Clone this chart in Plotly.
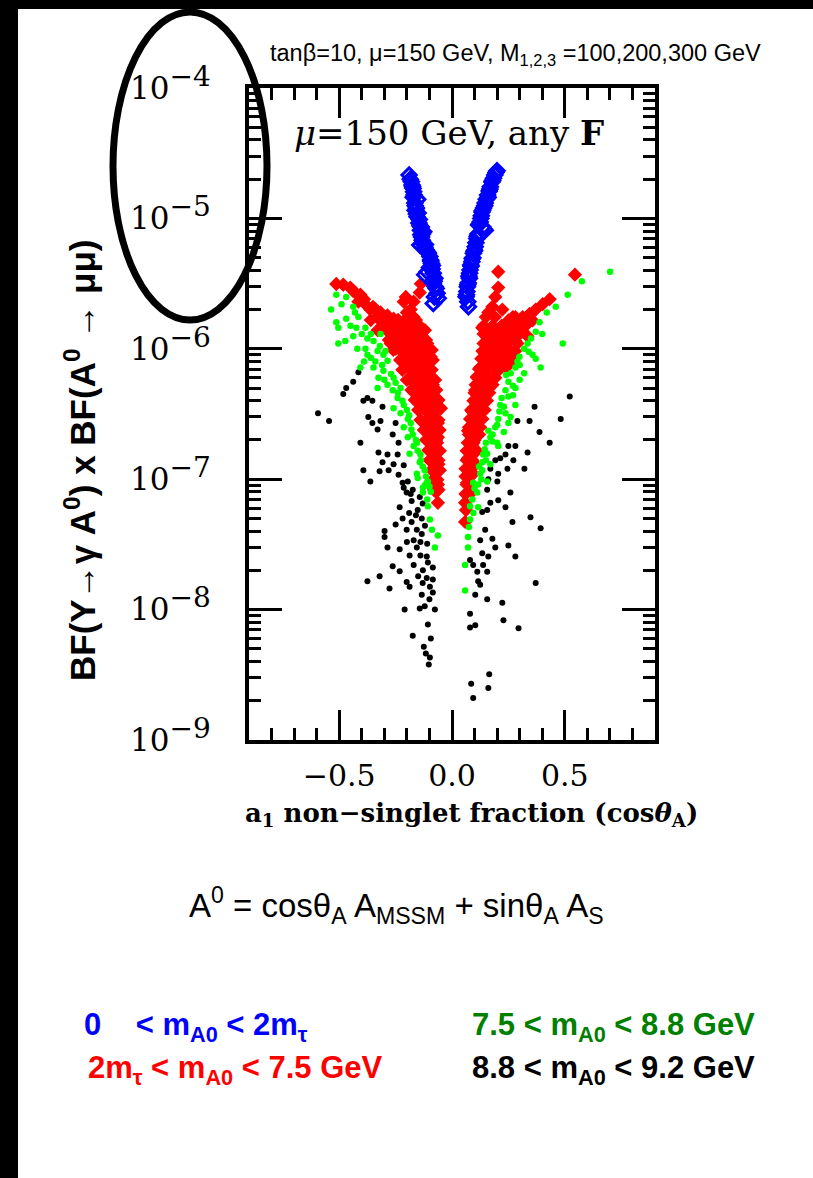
import plotly.graph_objects as go

# ---------------- data ----------------
blue_x = [-0.19, -0.18, -0.173, -0.168, -0.165, -0.161, -0.155, -0.147, -0.14, -0.135, -0.143, -0.128,
          -0.113, -0.098, -0.091, -0.121, -0.083, -0.076, -0.083, -0.066, -0.083, -0.061,
          -0.177, -0.17, -0.158, -0.15, -0.145, -0.136, -0.131, -0.12, -0.105, -0.095, -0.1, -0.088,
          -0.07, -0.152, -0.125,
          -0.185, -0.175, -0.163, -0.158, -0.142, -0.138, -0.132, -0.118, -0.108, -0.094, -0.087, -0.11,
          -0.079, -0.075, -0.078, -0.172, -0.163,
          0.1995, 0.184, 0.17, 0.158, 0.147, 0.133, 0.125, 0.147, 0.118, 0.11, 0.103, 0.095, 0.088,
          0.08, 0.077, 0.068, 0.0625, 0.073,
          0.19, 0.177, 0.165, 0.152, 0.14, 0.13, 0.137, 0.115, 0.1, 0.092, 0.085, 0.072, 0.066, 0.078,
          0.195, 0.18, 0.168, 0.16, 0.145, 0.135, 0.128, 0.12, 0.112, 0.106, 0.098, 0.09, 0.083, 0.075,
          0.07, 0.064, 0.07, 0.142]
blue_y = [2.15e-5, 1.91e-5, 1.70e-5, 1.51e-5, 1.31e-5, 1.16e-5, 1.03e-5, 9.2e-6, 8.1e-6, 7.2e-6, 6.25e-6, 6.4e-6,
          5.7e-6, 5.1e-6, 4.5e-6, 3.7e-6, 3.8e-6, 3.47e-6, 3.18e-6, 2.67e-6, 2.23e-6, 2.44e-6,
          1.8e-5, 1.6e-5, 1.2e-5, 1.1e-5, 9.8e-6, 8.6e-6, 7.6e-6, 6.0e-6, 5.4e-6, 4.8e-6, 4.2e-6, 4.1e-6,
          2.9e-6, 1.4e-5, 7.9e-6,
          2.0e-5, 1.75e-5, 1.25e-5, 1.08e-5, 8.8e-6, 7.5e-6, 6.8e-6, 6.3e-6, 5.5e-6, 4.7e-6, 4.35e-6, 3.9e-6,
          3.3e-6, 3.0e-6, 2.5e-6, 1.45e-5, 1.15e-5,
          2.32e-5, 2.03e-5, 1.75e-5, 1.51e-5, 1.31e-5, 1.12e-5, 9.4e-6, 8.1e-6, 8.9e-6, 7.0e-6, 6.07e-6, 5.4e-6, 4.66e-6,
          4.02e-6, 3.47e-6, 2.99e-6, 2.51e-6, 2.1e-6,
          2.15e-5, 1.9e-5, 1.62e-5, 1.4e-5, 1.2e-5, 1.05e-5, 8.6e-6, 7.6e-6, 5.7e-6, 5.0e-6, 4.3e-6, 3.2e-6, 2.75e-6, 3.8e-6,
          2.25e-5, 1.95e-5, 1.68e-5, 1.45e-5, 1.25e-5, 1.15e-5, 1.0e-5, 9.0e-6, 7.3e-6, 6.5e-6, 5.6e-6, 4.9e-6, 4.4e-6, 3.6e-6,
          3.1e-6, 2.6e-6, 2.3e-6, 8.3e-6]

red_x = [-0.513, -0.482, -0.451, -0.429, -0.406, -0.415, -0.384, -0.362, -0.339, -0.317, -0.286, -0.259,
         -0.33, -0.304, -0.281, -0.263, -0.241, -0.219, -0.205, -0.214, -0.138, -0.143, -0.17, -0.183,
         -0.196, -0.17, -0.152, -0.129, -0.17, -0.183, -0.143, -0.107, -0.094, -0.116, -0.196, -0.174,
         -0.152, -0.129, -0.17, -0.107, -0.138, -0.085, -0.107, -0.076, -0.049, -0.121, -0.094, -0.107,
         -0.076, -0.094, -0.0625, -0.076, -0.054, -0.071, -0.054, -0.0625, -0.071,
         -0.241, -0.228, -0.25, -0.272, -0.196, -0.214, -0.237, -0.121, -0.214, -0.196, -0.183, -0.161,
         -0.143, -0.129, -0.116, -0.098, -0.085, -0.076, -0.094, -0.0625, -0.067, -0.0625,
         -0.15, -0.12, -0.1, -0.088, -0.08, -0.066, -0.06, -0.2, -0.16, -0.135, -0.16, -0.14, -0.12,
         -0.23, -0.25, -0.3, -0.35, -0.39, -0.44, -0.155, -0.18, -0.2, -0.13, -0.11,
         -0.36, -0.32, -0.28, -0.24, -0.2, -0.16,
         -0.33, -0.29, -0.26, -0.22, -0.18, -0.14, -0.12,
         -0.28, -0.25, -0.21, -0.17, -0.13, -0.115,
         -0.26, -0.23, -0.19, -0.15, -0.11, -0.09,
         -0.23, -0.2, -0.165, -0.13, -0.1, -0.085,
         -0.22, -0.185, -0.15, -0.115, -0.09,
         -0.2, -0.165, -0.13, -0.1, -0.075,
         -0.18, -0.15, -0.12, -0.09, -0.07,
         -0.165, -0.135, -0.105, -0.08, -0.06,
         -0.15, -0.12, -0.095, -0.07,
         -0.14, -0.11, -0.085, -0.06,
         -0.125, -0.1, -0.075, -0.055,
         -0.115, -0.09, -0.07,
         -0.105, -0.085, -0.065,
         -0.1, -0.08, -0.06,
         -0.09, -0.07, -0.085, -0.065, -0.08, -0.06,
         0.205, 0.545, 0.433, 0.402, 0.371, 0.344, 0.313, 0.281, 0.25, 0.223, 0.205, 0.192, 0.179, 0.161,
         0.134, 0.161, 0.192, 0.223, 0.25, 0.299, 0.326, 0.335, 0.281, 0.25, 0.223, 0.192, 0.161, 0.147,
         0.179, 0.268, 0.237, 0.205, 0.134, 0.112, 0.161, 0.192, 0.134, 0.103, 0.156, 0.112, 0.089, 0.134,
         0.103, 0.071, 0.116, 0.089, 0.071, 0.103, 0.08, 0.089, 0.357, 0.08, 0.067, 0.058, 0.058, 0.094,
         0.12, 0.15, 0.17, 0.12, 0.14, 0.09, 0.1, 0.085, 0.075, 0.24, 0.28, 0.3, 0.21, 0.18, 0.26, 0.2,
         0.15, 0.19, 0.27, 0.33,
         0.14, 0.18, 0.22, 0.26, 0.31,
         0.14, 0.19, 0.25, 0.3,
         0.14, 0.2, 0.24, 0.29,
         0.135, 0.17, 0.21, 0.28,
         0.13, 0.18, 0.22,
         0.125, 0.16, 0.2, 0.24,
         0.11, 0.15, 0.18,
         0.105, 0.14, 0.18,
         0.1, 0.13, 0.165,
         0.095, 0.125, 0.155,
         0.085, 0.115, 0.145,
         0.08, 0.11, 0.135,
         0.075, 0.1, 0.125,
         0.075, 0.1, 0.12,
         0.07, 0.095,
         0.065, 0.09, 0.11,
         0.065, 0.09,
         0.06, 0.085,
         0.06, 0.08,
         0.065, 0.08,
         0.06, 0.062]
red_y = [3.14e-6, 3.1e-6, 2.95e-6, 2.7e-6, 2.6e-6, 2.3e-6, 2.2e-6, 2.0e-6, 2.0e-6, 1.9e-6, 1.8e-6, 1.7e-6,
         1.75e-6, 1.6e-6, 1.45e-6, 1.3e-6, 1.15e-6, 1.0e-6, 2.5e-6, 2.3e-6, 3.15e-6, 2.7e-6, 2.3e-6, 2.0e-6,
         1.75e-6, 1.75e-6, 1.55e-6, 1.35e-6, 1.38e-6, 1.2e-6, 1.15e-6, 1.0e-6, 8.7e-7, 8.7e-7, 9.6e-7, 8.7e-7,
         7.6e-7, 6.8e-7, 6.8e-7, 6.0e-7, 5.6e-7, 5.3e-7, 4.8e-7, 4.2e-7, 3.5e-7, 4.0e-7, 3.5e-7, 2.9e-7,
         2.8e-7, 2.35e-7, 2.1e-7, 1.8e-7, 1.65e-7, 1.4e-7, 1.17e-7, 9.1e-8, 8.0e-8,
         1.45e-6, 1.3e-6, 1.0e-6, 1.1e-6, 1.2e-6, 1.45e-6, 1.65e-6, 9.0e-7, 8.7e-7, 7.6e-7, 6.0e-7, 5.3e-7,
         4.6e-7, 3.5e-7, 2.7e-7, 1.95e-7, 1.45e-7, 1.17e-7, 1.65e-7, 2.7e-7, 8.3e-8, 6.6e-8,
         6.2e-7, 5.0e-7, 3.9e-7, 3.1e-7, 2.3e-7, 1.9e-7, 1.3e-7, 1.1e-6, 1.05e-6, 9.5e-7, 8.0e-7, 7.2e-7, 6.5e-7,
         1.55e-6, 1.4e-6, 1.7e-6, 2.1e-6, 2.4e-6, 2.8e-6, 1.3e-6, 1.5e-6, 1.9e-6, 1.2e-6, 1.1e-6,
         1.66e-6, 1.66e-6, 1.66e-6, 1.66e-6, 1.66e-6, 1.66e-6,
         1.39e-6, 1.39e-6, 1.39e-6, 1.39e-6, 1.39e-6, 1.39e-6, 1.39e-6,
         1.17e-6, 1.17e-6, 1.17e-6, 1.17e-6, 1.17e-6, 1.17e-6,
         9.8e-7, 9.8e-7, 9.8e-7, 9.8e-7, 9.8e-7, 9.8e-7,
         8.2e-7, 8.2e-7, 8.2e-7, 8.2e-7, 8.2e-7, 8.2e-7,
         6.9e-7, 6.9e-7, 6.9e-7, 6.9e-7, 6.9e-7,
         5.77e-7, 5.77e-7, 5.77e-7, 5.77e-7, 5.77e-7,
         4.83e-7, 4.83e-7, 4.83e-7, 4.83e-7, 4.83e-7,
         4.05e-7, 4.05e-7, 4.05e-7, 4.05e-7, 4.05e-7,
         3.4e-7, 3.4e-7, 3.4e-7, 3.4e-7,
         2.84e-7, 2.84e-7, 2.84e-7, 2.84e-7,
         2.38e-7, 2.38e-7, 2.38e-7, 2.38e-7,
         2.0e-7, 2.0e-7, 2.0e-7,
         1.67e-7, 1.67e-7, 1.67e-7,
         1.4e-7, 1.4e-7, 1.4e-7,
         1.18e-7, 1.18e-7, 9.9e-8, 9.9e-8, 8.3e-8, 8.3e-8,
         3.9e-6, 3.7e-6, 2.4e-6, 2.2e-6, 2.0e-6, 1.85e-6, 1.75e-6, 1.75e-6, 1.65e-6, 2.0e-6, 2.95e-6, 2.5e-6, 2.1e-6, 1.9e-6,
         1.45e-6, 1.38e-6, 1.42e-6, 1.3e-6, 1.38e-6, 1.45e-6, 1.5e-6, 1.25e-6, 1.15e-6, 1.0e-6, 9.6e-7, 9.0e-7, 8.7e-7, 1.1e-6,
         1.0e-6, 8.1e-7, 7.6e-7, 6.8e-7, 6.4e-7, 6.0e-7, 6.0e-7, 6.0e-7, 5.3e-7, 4.8e-7, 4.6e-7, 4.0e-7, 3.3e-7, 3.3e-7,
         2.7e-7, 2.35e-7, 2.2e-7, 1.8e-7, 1.45e-7, 1.3e-7, 1.05e-7, 8.0e-8, 1.65e-6, 1.5e-7, 9.4e-8, 6.6e-8, 4.7e-8, 1.1e-7,
         7.0e-7, 7.5e-7, 5.2e-7, 4.4e-7, 3.8e-7, 2.4e-7, 2.0e-7, 1.6e-7, 1.2e-7, 1.2e-6, 1.3e-6, 1.6e-6, 1.1e-6, 1.2e-6, 9.0e-7, 8.0e-7,
         1.75e-6, 1.75e-6, 1.75e-6, 1.75e-6,
         1.5e-6, 1.5e-6, 1.5e-6, 1.5e-6, 1.5e-6,
         1.3e-6, 1.3e-6, 1.3e-6, 1.3e-6,
         1.1e-6, 1.1e-6, 1.1e-6, 1.1e-6,
         9.6e-7, 9.6e-7, 9.6e-7, 9.6e-7,
         8.4e-7, 8.4e-7, 8.4e-7,
         7.2e-7, 7.2e-7, 7.2e-7, 7.2e-7,
         6.1e-7, 6.1e-7, 6.1e-7,
         5.3e-7, 5.3e-7, 5.3e-7,
         4.6e-7, 4.6e-7, 4.6e-7,
         4.0e-7, 4.0e-7, 4.0e-7,
         3.4e-7, 3.4e-7, 3.4e-7,
         2.9e-7, 2.9e-7, 2.9e-7,
         2.5e-7, 2.5e-7, 2.5e-7,
         2.2e-7, 2.2e-7, 2.2e-7,
         1.9e-7, 1.9e-7,
         1.65e-7, 1.65e-7, 1.65e-7,
         1.4e-7, 1.4e-7,
         1.2e-7, 1.2e-7,
         1.05e-7, 1.05e-7,
         9.1e-8, 9.1e-8,
         7.7e-8, 5.8e-8]

green_x = [-0.513, -0.536, -0.513, -0.504, -0.473, -0.469, -0.469, -0.438, -0.415, -0.424, -0.438, -0.384,
           -0.375, -0.384, -0.375, -0.406, -0.348, -0.33, -0.304, -0.286, -0.348, -0.326, -0.304, -0.33,
           -0.286, -0.259, -0.263, -0.241, -0.228, -0.259, -0.214, -0.228, -0.196, -0.183, -0.214, -0.174,
           -0.17, -0.196, -0.152, -0.138, -0.121, -0.107, -0.152, -0.129, -0.094, -0.317, -0.295, -0.188,
           -0.143, -0.156, -0.112, -0.129, -0.107, -0.098, -0.089, -0.0625, -0.076, -0.504,
           -0.36, -0.34, -0.31, -0.27, -0.25, -0.3, -0.24, -0.22, -0.2, -0.19, -0.18, -0.16, -0.155, -0.14,
           -0.13, -0.115, -0.1, -0.11, -0.12, -0.4, -0.45, -0.43, -0.49, -0.36, -0.32, -0.42, -0.39,
           0.701, 0.576, 0.513, 0.46, 0.388, 0.371, 0.491, 0.335, 0.357, 0.371, 0.393, 0.299, 0.281, 0.25,
           0.281, 0.237, 0.281, 0.214, 0.237, 0.25, 0.205, 0.192, 0.161, 0.205, 0.179, 0.138, 0.17, 0.134,
           0.116, 0.156, 0.2, 0.156, 0.134, 0.125, 0.094, 0.112, 0.08, 0.116, 0.08, 0.071, 0.071, 0.058, 0.058,
           0.22, 0.26, 0.23, 0.18, 0.15, 0.32, 0.3, 0.24, 0.27,
           0.42, 0.35, 0.32, 0.3, 0.26, 0.27, 0.25, 0.23, 0.21, 0.2, 0.17, 0.145, 0.15, 0.12, 0.13, 0.1,
           0.09, 0.095, 0.075, 0.29, 0.34, 0.4]
green_y = [2.6e-6, 2.0e-6, 1.6e-6, 1.1e-6, 1.15e-6, 1.7e-6, 2.5e-6, 2.1e-6, 1.75e-6, 1.45e-6, 1.25e-6, 1.45e-6,
           1.2e-6, 1.0e-6, 9.0e-7, 7.2e-7, 1.15e-6, 9.6e-7, 9.0e-7, 8.1e-7, 7.2e-7, 6.0e-7, 6.8e-7, 5.0e-7,
           5.3e-7, 6.0e-7, 4.8e-7, 4.2e-7, 5.0e-7, 3.5e-7, 3.7e-7, 3.2e-7, 2.9e-7, 2.7e-7, 2.5e-7, 2.2e-7,
           1.8e-7, 2.1e-7, 1.65e-7, 1.4e-7, 1.17e-7, 9.6e-8, 1.02e-7, 8.6e-8, 8.0e-8, 1.3e-6, 9.6e-7, 1.57e-7,
           1.35e-7, 1.1e-7, 9.4e-8, 7.9e-8, 6.2e-8, 4.9e-8, 4.1e-8, 3.7e-8, 3.0e-8, 1.45e-6,
           8.5e-7, 8.0e-7, 7.5e-7, 6.4e-7, 5.5e-7, 5.8e-7, 4.6e-7, 4.0e-7, 3.4e-7, 3.1e-7, 2.4e-7, 2.0e-7, 1.9e-7, 1.55e-7,
           1.25e-7, 1.05e-7, 8.8e-8, 7.0e-8, 9.0e-8, 1.3e-6, 1.5e-6, 1.9e-6, 2.2e-6, 1.3e-6, 1.05e-6, 1.0e-6, 8.0e-7,
           3.9e-6, 3.3e-6, 2.6e-6, 2.1e-6, 1.6e-6, 1.35e-6, 1.1e-6, 1.1e-6, 9.0e-7, 8.4e-7, 7.2e-7, 8.7e-7, 7.2e-7, 5.6e-7,
           5.0e-7, 4.8e-7, 3.7e-7, 3.7e-7, 3.2e-7, 2.7e-7, 2.9e-7, 2.5e-7, 2.35e-7, 1.8e-7, 1.95e-7, 1.55e-7, 1.3e-7, 1.17e-7,
           9.1e-8, 9.6e-8, 1.9e-7, 1.57e-7, 1.35e-7, 1.1e-7, 9.4e-8, 7.9e-8, 6.2e-8, 6.1e-8, 4.9e-8, 3.6e-8, 3.0e-8, 2.2e-8, 1.4e-8,
           4.2e-7, 3.0e-7, 2.3e-7, 2.2e-7, 1.9e-7, 6.5e-7, 5.8e-7, 6.3e-7, 4.4e-7,
           1.9e-6, 1.2e-6, 1.0e-6, 7.5e-7, 6.5e-7, 5.2e-7, 4.3e-7, 3.6e-7, 3.3e-7, 2.6e-7, 2.1e-7, 1.7e-7, 1.4e-7, 1.25e-7, 1.0e-7, 8.5e-8,
           7.0e-8, 5.5e-8, 4.3e-8, 8.0e-7, 9.5e-7, 1.3e-6]

black_x = [-0.594, -0.545, -0.415, -0.438, -0.469, -0.482, -0.375, -0.353, -0.393, -0.308, -0.371, -0.317,
           -0.353, -0.25, -0.406, -0.33, -0.263, -0.237, -0.326, -0.286, -0.241, -0.308, -0.259, -0.214,
           -0.393, -0.362, -0.281, -0.237, -0.196, -0.214, -0.183, -0.321, -0.219,
           -0.201, -0.174, -0.179, -0.232, -0.143, -0.152, -0.219, -0.134, -0.179, -0.299, -0.299, -0.201,
           -0.156, -0.134, -0.286, -0.232, -0.188, -0.112, -0.156, -0.107, -0.263, -0.232, -0.129, -0.085,
           -0.375, -0.321, -0.201, -0.188, -0.277, -0.098, -0.112, -0.085, -0.134, -0.085, -0.21, -0.143,
           -0.121, -0.076, -0.107, -0.174, -0.094, -0.125, -0.116, -0.098, -0.103,
           -0.17, -0.14, -0.2, -0.12, -0.16, -0.19, -0.13, -0.25, -0.17, -0.14, -0.11, -0.15, -0.13, -0.1,
           0.522, 0.482, 0.433, 0.388, 0.344, 0.366, 0.29, 0.25, 0.281, 0.335, 0.237, 0.272, 0.192, 0.321,
           0.246, 0.205, 0.161, 0.156, 0.259, 0.214, 0.17, 0.201,
           0.205, 0.237, 0.156, 0.134, 0.17, 0.348, 0.268, 0.393, 0.147, 0.179, 0.125, 0.192, 0.25, 0.134,
           0.161, 0.281, 0.08, 0.094, 0.138, 0.112, 0.156, 0.371, 0.116, 0.125, 0.103, 0.156, 0.223, 0.08,
           0.228, 0.295, 0.08, 0.103, 0.165, 0.085, 0.161, 0.094]
black_y = [3.2e-7, 2.8e-7, 6.6e-7, 5.6e-7, 5.0e-7, 4.5e-7, 4.2e-7, 4.0e-7, 4.0e-7, 3.6e-7, 3.0e-7, 2.8e-7,
           2.7e-7, 2.7e-7, 1.9e-7, 2.4e-7, 2.2e-7, 1.9e-7, 1.6e-7, 1.55e-7, 1.55e-7, 1.35e-7, 1.3e-7, 1.28e-7,
           1.17e-7, 9.6e-8, 1.17e-7, 1.08e-7, 9.6e-8, 8.6e-8, 7.7e-8, 1.15e-7, 9.4e-8,
           7.9e-8, 8.3e-8, 6.8e-8, 6.1e-8, 7.3e-8, 5.8e-8, 5.0e-8, 5.0e-8, 4.7e-8, 4.0e-8, 3.6e-8, 4.1e-8,
           4.1e-8, 3.8e-8, 3.0e-8, 2.9e-8, 2.6e-8, 2.55e-8, 3.0e-8, 2.3e-8, 2.15e-8, 1.97e-8, 2.0e-8, 2.1e-8,
           1.65e-8, 1.8e-8, 1.63e-8, 1.5e-8, 1.45e-8, 1.5e-8, 1.75e-8, 1.7e-8, 1.3e-8, 1.35e-8, 1.0e-8, 1.02e-8,
           1.06e-8, 1.0e-8, 7.7e-9, 6.3e-9, 6.0e-9, 5.2e-9, 4.6e-9, 4.3e-9, 3.8e-9,
           3.4e-8, 3.3e-8, 3.3e-8, 4.4e-8, 5.3e-8, 5.5e-8, 6.5e-8, 4.5e-8, 2.2e-8, 2.6e-8, 3.2e-8, 1.8e-8, 1.6e-8, 1.2e-8,
           4.3e-7, 2.9e-7, 1.9e-7, 2.3e-7, 2.8e-7, 3.6e-7, 2.8e-7, 1.8e-7, 1.8e-7, 1.6e-7, 1.55e-7, 1.4e-7, 1.4e-7, 1.2e-7,
           1.2e-7, 1.1e-7, 1.0e-7, 8.3e-8, 7.9e-8, 1.45e-7, 1.2e-7, 9.6e-8,
           6.9e-8, 6.1e-8, 5.8e-8, 5.6e-8, 6.6e-8, 5.1e-8, 4.7e-8, 4.2e-8, 4.1e-8, 3.5e-8, 3.4e-8, 3.0e-8, 3.1e-8, 2.7e-8,
           2.55e-8, 2.55e-8, 2.4e-8, 2.2e-8, 2.2e-8, 1.95e-8, 1.95e-8, 1.6e-8, 1.65e-8, 1.55e-8, 1.3e-8, 1.2e-8, 1.13e-8, 9.3e-9,
           8.3e-9, 7.2e-9, 7.3e-9, 7.6e-9, 3.2e-9, 2.7e-9, 2.5e-9, 2.1e-9]

x_tickvals = [-0.5, 0.0, 0.5]
x_ticktext = ["\u22120.5", "0.0", "0.5"]
y_exponents = [-9, -8, -7, -6, -5, -4]

# ---------------- figure ----------------
W, H = 813, 1178
L, R, T, B = 249, 158, 88, 438
PW, PH = W - L - R, H - T - B


def px2paper(px, py):
    return (px - L) / PW, (H - B - py) / PH


serif = "DejaVu Serif"
sans = "Liberation Sans, Arial"

fig = go.Figure()
fig.add_trace(go.Scatter(x=black_x, y=black_y, mode="markers",
                         marker=dict(symbol="circle", size=6, color="black"), showlegend=False))
fig.add_trace(go.Scatter(x=red_x, y=red_y, mode="markers",
                         marker=dict(symbol="diamond", size=11, color="#ff0000"), showlegend=False))
fig.add_trace(go.Scatter(x=green_x, y=green_y, mode="markers",
                         marker=dict(symbol="circle", size=6.5, color="#00ff00"), showlegend=False))
fig.add_trace(go.Scatter(x=blue_x, y=blue_y, mode="markers",
                         marker=dict(symbol="diamond-open", size=11, color="#0000ff",
                                     line=dict(width=3, color="#0000ff")), showlegend=False))

y_tickvals = [10.0 ** e for e in y_exponents]
y_ticktext = ["10<sup><span style='font-size:28px'>\u2212%d</span></sup>" % (-e) for e in y_exponents]
y_minor = [m * 10.0 ** e for e in y_exponents[:-1] for m in range(2, 10)]

fig.update_layout(
    width=W, height=H, autosize=False,
    margin=dict(l=L, r=R, t=T, b=B, pad=0),
    paper_bgcolor="white", plot_bgcolor="white",
    showlegend=False,
    xaxis=dict(range=[-0.9, 0.9], tickmode="array", tickvals=x_tickvals, ticktext=x_ticktext,
               ticks="inside", ticklen=30, tickwidth=3, tickcolor="black",
               showline=True, linewidth=4, linecolor="black", mirror="allticks",
               showgrid=False, zeroline=False,
               tickfont=dict(family=serif, size=30, color="black"), ticklabelstandoff=6,
               minor=dict(ticks="inside", ticklen=12, tickwidth=3, tickcolor="black",
                          dtick=0.1, tick0=0, showgrid=False)),
    yaxis=dict(type="log", range=[-9, -4], tickmode="array", tickvals=y_tickvals, ticktext=y_ticktext,
               ticks="inside", ticklen=33, tickwidth=3, tickcolor="black",
               showline=True, linewidth=4, linecolor="black", mirror="allticks",
               showgrid=False, zeroline=False,
               tickfont=dict(family=serif, size=31, color="black"), ticklabelstandoff=28,
               minor=dict(ticks="inside", ticklen=12, tickwidth=3, tickcolor="black",
                          tickmode="array", tickvals=y_minor, showgrid=False)),
)

ann = []
# top caption
ann.append(dict(text="tan\u03b2=10, \u03bc=150 GeV, M<sub>1,2,3</sub> =100,200,300 GeV",
                x=px2paper(268, 0)[0], y=px2paper(0, 54)[1], xanchor="left", yanchor="middle",
                font=dict(family=sans, size=23.5, color="black")))
# in-plot label
ann.append(dict(text="<i>\u03bc</i>=150 GeV, any <b>F</b>",
                x=px2paper(449, 0)[0], y=px2paper(0, 133)[1], xanchor="center", yanchor="middle",
                font=dict(family=serif, size=34, color="black")))
# x title
ann.append(dict(text="<b>a<sub>1</sub> non\u2212singlet fraction (cos<i>\u03b8</i><sub>A</sub>)</b>",
                x=px2paper(471, 0)[0], y=px2paper(0, 815)[1], xanchor="center", yanchor="middle",
                font=dict(family=serif, size=26, color="black")))
# y title
ann.append(dict(text="<b>BF(\u03a5\u2192\u03b3 A<sup>0</sup>) x BF(A<sup>0</sup> \u2192 \u03bc\u03bc)</b>",
                x=px2paper(80, 0)[0], y=px2paper(0, 460)[1], xanchor="center", yanchor="middle",
                textangle=-90, font=dict(family=sans, size=35, color="black")))
# formula
ann.append(dict(text="A<sup>0</sup> = cos\u03b8<sub>A</sub> A<sub>MSSM</sub> + sin\u03b8<sub>A</sub> A<sub>S</sub>",
                x=px2paper(187, 0)[0], y=px2paper(0, 905)[1], xanchor="left", yanchor="middle",
                font=dict(family=sans, size=33, color="black")))
# legend text
ann.append(dict(text="<b>0    &lt; m<sub>A0</sub> &lt; 2m<sub>\u03c4</sub></b>",
                x=px2paper(82, 0)[0], y=px2paper(0, 1027)[1], xanchor="left", yanchor="middle",
                font=dict(family=sans, size=31, color="#0000ff")))
ann.append(dict(text="<b>2m<sub>\u03c4</sub> &lt; m<sub>A0</sub> &lt; 7.5 GeV</b>",
                x=px2paper(86, 0)[0], y=px2paper(0, 1070)[1], xanchor="left", yanchor="middle",
                font=dict(family=sans, size=31, color="#ff0000")))
ann.append(dict(text="<b>7.5 &lt; m<sub>A0</sub> &lt; 8.8 GeV</b>",
                x=px2paper(470, 0)[0], y=px2paper(0, 1027)[1], xanchor="left", yanchor="middle",
                font=dict(family=sans, size=31, color="#008000")))
ann.append(dict(text="<b>8.8 &lt; m<sub>A0</sub> &lt; 9.2 GeV</b>",
                x=px2paper(470, 0)[0], y=px2paper(0, 1070)[1], xanchor="left", yanchor="middle",
                font=dict(family=sans, size=31, color="black")))
for a in ann:
    a.update(xref="paper", yref="paper", showarrow=False)
fig.update_layout(annotations=ann)

# decorations: black frame strips and hand-drawn ellipse
x0, y0 = px2paper(0, H)
x1, y1 = px2paper(18, 0)
x2, y2 = px2paper(W, 9)
ex0, ey0 = px2paper(113, 320)
ex1, ey1 = px2paper(267, 12)
fig.update_layout(shapes=[
    dict(type="rect", xref="paper", yref="paper", x0=x0, y0=y0, x1=x1, y1=y1,
         fillcolor="black", line=dict(width=0), layer="above"),
    dict(type="rect", xref="paper", yref="paper", x0=x0, y0=y2, x1=x2, y1=y1,
         fillcolor="black", line=dict(width=0), layer="above"),
    dict(type="circle", xref="paper", yref="paper", x0=ex0, y0=ey0, x1=ex1, y1=ey1,
         line=dict(color="black", width=7), layer="above"),
])

fig.write_html("out.html")
